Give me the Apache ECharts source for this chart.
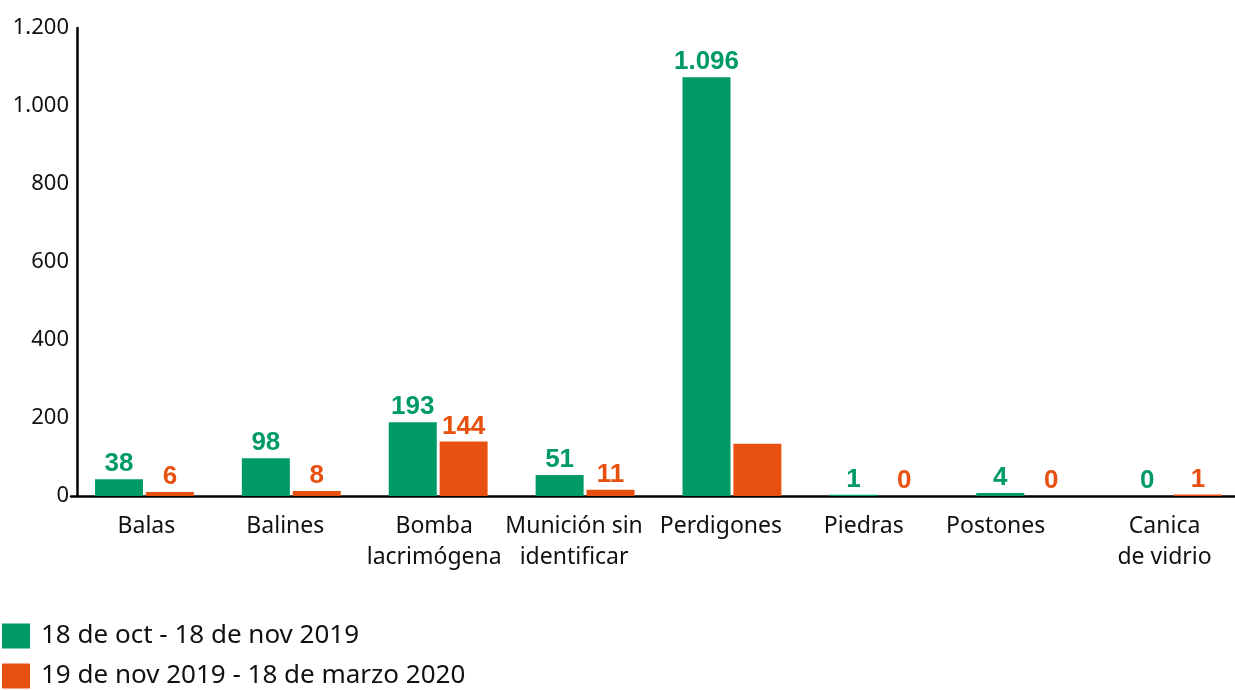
<!DOCTYPE html>
<html>
<head>
<meta charset="utf-8">
<script src="https://cdn.jsdelivr.net/npm/echarts@6/dist/echarts.min.js"></script>
<style>html,body{margin:0;padding:0;background:#fff}#c{width:1235px;height:690px}</style>
</head>
<body>
<div id="c"></div>
<script>
const categories = ["Balas", "Balines", "Bomba\nlacrimógena", "Munición sin\nidentificar", "Perdigones", "Piedras", "Postones", "Canica\nde vidrio"];
const seriesNames = ["18 de oct - 18 de nov 2019", "19 de nov 2019 - 18 de marzo 2020"];
// bar heights as drawn in the picture
const valuesPeriod1 = [43, 97, 189, 54, 1074, 3, 8, 0];
const valuesPeriod2 = [10, 13, 140, 16, 134, 0, 0, 4];
// value labels as printed
const labelsPeriod1 = ["38", "98", "193", "51", "1.096", "1", "4", "0"];
const labelsPeriod2 = ["6", "8", "144", "11", "", "0", "0", "1"];
const yTicks = [0, 200, 400, 600, 800, 1000, 1200];

// layout only: horizontal nudge of each category label (px), as set in the original
const labelNudge = [2, -6, -4, -11, -11, -15, -30, -8];

const green = '#009a66';
const orange = '#e8500f';

const fmt = v => String(v).replace(/\B(?=(\d{3})+(?!\d))/g, '.');

const chart = echarts.init(document.getElementById('c'));
function labelCfg(arr, color) {
  return {
    show: true, position: 'top', distance: 2,
    formatter: p => arr[p.dataIndex],
    color: color, fontFamily: 'Liberation Sans', fontWeight: 'bold', fontSize: 26
  };
}
const xData = categories.map((c, i) => {
  const s = labelNudge[i];
  return { value: c, textStyle: { padding: s >= 0 ? [0, 0, 0, 2 * s] : [0, -2 * s, 0, 0] } };
});
chart.setOption({
  animation: false,
  backgroundColor: '#fff',
  grid: { left: 71, width: 1175, top: 28, bottom: 194, containLabel: false, outerBoundsMode: 'none' },
  legend: {
    orient: 'vertical', left: 2, top: 623, padding: 0,
    itemWidth: 28, itemHeight: 25, itemGap: 14,
    icon: 'rect',
    textStyle: { fontFamily: 'Noto Sans', fontSize: 26, color: '#111', padding: [0, 0, 0, 6] },
    data: seriesNames
  },
  xAxis: {
    type: 'category', data: xData,
    axisLine: { lineStyle: { color: '#000', width: 2.5 } },
    axisTick: { show: false },
    axisLabel: { interval: 0, margin: 15, fontFamily: 'Noto Sans', fontSize: 23, lineHeight: 31, color: '#111', align: 'center' }
  },
  yAxis: {
    type: 'value', min: yTicks[0], max: yTicks[yTicks.length - 1], interval: 200, offset: -6,
    axisLine: { show: true, lineStyle: { color: '#000', width: 2.5 } },
    axisTick: { show: false },
    splitLine: { show: false },
    axisLabel: { margin: 8, fontFamily: 'Noto Sans', fontSize: 22, color: '#111', formatter: v => fmt(v) }
  },
  series: [
    { name: seriesNames[0], type: 'bar', data: valuesPeriod1, barWidth: 48, barGap: '6%', itemStyle: { color: green }, label: labelCfg(labelsPeriod1, green) },
    { name: seriesNames[1], type: 'bar', data: valuesPeriod2, barWidth: 48, barGap: '6%', itemStyle: { color: orange }, label: labelCfg(labelsPeriod2, orange) }
  ]
});
</script>
</body>
</html>
